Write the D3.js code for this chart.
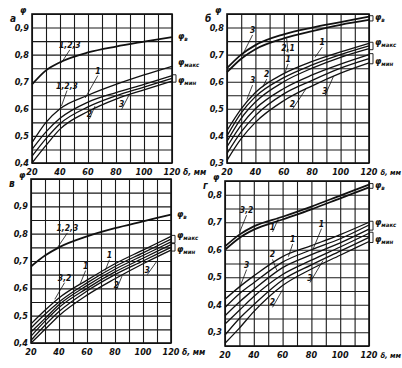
<!DOCTYPE html>
<html>
<head>
<meta charset="utf-8">
<script src="https://cdn.jsdelivr.net/npm/d3@7"></script>
<style>
body { margin: 0; background: #fff; }
text { font-family: "Liberation Sans Narrow", "DejaVu Sans Condensed", sans-serif; font-style: italic; font-weight: bold; fill: #111; }
</style>
</head>
<body>
<script>
// thickness delta, mm
var delta = [20, 30, 40, 60, 80, 100, 120];
var xTicks = [20, 40, 60, 80, 100, 120];

// panel a
var fiV_a = [0.69, 0.742, 0.772, 0.808, 0.83, 0.848, 0.865];
var fiMax_a = [0.475, 0.55, 0.6, 0.65, 0.69, 0.725, 0.757];
var fiMin_a = [
  [0.45, 0.515, 0.565, 0.625, 0.66, 0.69, 0.722],
  [0.425, 0.49, 0.545, 0.607, 0.648, 0.68, 0.712],
  [0.40, 0.465, 0.525, 0.59, 0.636, 0.67, 0.702]
];
// panel b
var fiV_b = [
  [0.65, 0.70, 0.735, 0.775, 0.80, 0.82, 0.84],
  [0.635, 0.685, 0.72, 0.76, 0.787, 0.81, 0.828]
];
var fiMax_b = [
  [0.42, 0.50, 0.56, 0.63, 0.675, 0.71, 0.742],
  [0.40, 0.485, 0.545, 0.615, 0.662, 0.70, 0.732],
  [0.38, 0.465, 0.525, 0.60, 0.65, 0.69, 0.722]
];
var fiMin_b = [
  [0.36, 0.44, 0.50, 0.575, 0.625, 0.665, 0.70],
  [0.335, 0.415, 0.475, 0.555, 0.605, 0.65, 0.685],
  [0.31, 0.39, 0.45, 0.53, 0.585, 0.632, 0.67]
];
// panel c
var fiV_c = [0.68, 0.72, 0.75, 0.79, 0.82, 0.845, 0.87];
var fiMax_c = [
  [0.47, 0.52, 0.565, 0.63, 0.69, 0.74, 0.79],
  [0.455, 0.505, 0.55, 0.62, 0.68, 0.73, 0.78],
  [0.44, 0.49, 0.54, 0.61, 0.67, 0.72, 0.77]
];
var fiMin_c = [
  [0.425, 0.48, 0.53, 0.60, 0.66, 0.71, 0.76],
  [0.41, 0.465, 0.515, 0.59, 0.65, 0.70, 0.75],
  [0.40, 0.45, 0.50, 0.575, 0.635, 0.69, 0.74]
];
// panel d
var fiV_d = [
  [0.612, 0.655, 0.685, 0.72, 0.757, 0.797, 0.837],
  [0.60, 0.643, 0.673, 0.71, 0.747, 0.787, 0.827]
];
var fiMax_d = [
  [0.42, 0.465, 0.505, 0.575, 0.615, 0.655, 0.70],
  [0.39, 0.44, 0.48, 0.555, 0.60, 0.64, 0.69],
  [0.36, 0.41, 0.455, 0.535, 0.582, 0.625, 0.675]
];
var fiMin_d = [
  [0.33, 0.38, 0.43, 0.51, 0.562, 0.61, 0.66],
  [0.29, 0.35, 0.40, 0.49, 0.545, 0.595, 0.645],
  [0.26, 0.315, 0.375, 0.47, 0.53, 0.58, 0.63]
];

// curve numbers: [text, label x, label y, pointer x, pointer y] in data units
var notes_a = [["1,2,3", 47, 0.825, 41, 0.77], ["1,2,3", 45, 0.675, 41, 0.61], ["1", 67, 0.73, 58, 0.64], ["2", 61, 0.57, 65, 0.61], ["3", 84, 0.605, 89, 0.648]];
var notes_b = [["3", 38, 0.78, 31, 0.70], ["2,1", 63, 0.715, 62, 0.76], ["1", 87, 0.735, 82, 0.69], ["1", 63, 0.673, 61, 0.636], ["2", 48, 0.617, 45, 0.58], ["3", 38, 0.595, 34, 0.535], ["2", 66, 0.505, 76, 0.577], ["3", 89, 0.556, 95, 0.62]];
var notes_c = [["1,2,3", 46, 0.81, 39, 0.75], ["3,2", 44, 0.628, 37, 0.56], ["1", 59, 0.672, 55, 0.615], ["1", 76, 0.712, 73, 0.665], ["2", 81, 0.602, 85, 0.645], ["3", 103, 0.657, 110, 0.70]];
var notes_d = [["3,2", 35, 0.733, 30, 0.662], ["1", 53, 0.672, 57, 0.712], ["1", 87, 0.684, 81, 0.60], ["1", 67, 0.628, 64, 0.575], ["2", 53, 0.572, 56, 0.525], ["3", 35, 0.535, 30, 0.46], ["3", 79, 0.488, 88, 0.56], ["2", 53, 0.398, 60, 0.455]];

var panels = [
  {letter: "а", x0: 32, x1: 172, y0: 14, y1: 163, yd: [0.4, 0.95], yt: [0.4, 0.5, 0.6, 0.7, 0.8, 0.9], fv: [fiV_a], fmax: [fiMax_a], fmin: fiMin_a, notes: notes_a},
  {letter: "б", x0: 227, x1: 369, y0: 14, y1: 163, yd: [0.3, 0.85], yt: [0.3, 0.4, 0.5, 0.6, 0.7, 0.8], fv: fiV_b, fmax: fiMax_b, fmin: fiMin_b, notes: notes_b},
  {letter: "в", x0: 31, x1: 171, y0: 179, y1: 343, yd: [0.4, 1.0], yt: [0.4, 0.5, 0.6, 0.7, 0.8, 0.9], fv: [fiV_c], fmax: fiMax_c, fmin: fiMin_c, notes: notes_c},
  {letter: "г", x0: 225, x1: 369, y0: 181, y1: 346, yd: [0.25, 0.85], yt: [0.3, 0.4, 0.5, 0.6, 0.7, 0.8], fv: fiV_d, fmax: fiMax_d, fmin: fiMin_d, notes: notes_d}
];

var fmt = function(d) { return d3.format(".1f")(d).replace(".", ","); };

var svg = d3.select("body").append("svg")
  .attr("width", 402)
  .attr("height", 368);

panels.forEach(function(p) {
  var x = d3.scaleLinear().domain([20, 120]).range([p.x0, p.x1]);
  var y = d3.scaleLinear().domain(p.yd).range([p.y1, p.y0]);
  var g = svg.append("g");

  // grid: every 10 mm and every 0.05
  g.append("g")
    .attr("transform", "translate(0," + p.y1 + ")")
    .call(d3.axisBottom(x).tickValues(d3.range(20, 121, 10)).tickSize(-(p.y1 - p.y0)).tickFormat(""))
    .call(function(a) { a.select(".domain").remove(); a.selectAll("line").attr("stroke", "#1a1a1a").attr("stroke-width", 1.1); });
  var hs = d3.range(Math.round(p.yd[0] * 20), Math.round(p.yd[1] * 20) + 1).map(function(k) { return k / 20; });
  g.append("g")
    .attr("transform", "translate(" + p.x0 + ",0)")
    .call(d3.axisLeft(y).tickValues(hs).tickSize(-(p.x1 - p.x0)).tickFormat(""))
    .call(function(a) { a.select(".domain").remove(); a.selectAll("line").attr("stroke", "#1a1a1a").attr("stroke-width", 1.1); });
  g.append("rect")
    .attr("x", p.x0).attr("y", p.y0)
    .attr("width", p.x1 - p.x0).attr("height", p.y1 - p.y0)
    .attr("fill", "none").attr("stroke", "#111").attr("stroke-width", 1.6);

  // tick labels
  g.append("g").selectAll("text").data(p.yt).enter().append("text")
    .attr("x", p.x0 - 3).attr("y", function(d) { return y(d) + 3; })
    .attr("text-anchor", "end").attr("font-size", 9)
    .text(fmt);
  g.append("g").selectAll("text").data(xTicks).enter().append("text")
    .attr("x", function(d) { return x(d); }).attr("y", p.y1 + 12)
    .attr("text-anchor", "middle").attr("font-size", 9)
    .text(function(d) { return d; });
  var right = p.x1 > 300;
  g.append("text").attr("x", right ? 401 : p.x1 + 11).attr("y", p.y1 + 12)
    .attr("text-anchor", right ? "end" : "start").attr("font-size", right ? 7.5 : 8.5).text("δ, мм");
  g.append("text").attr("x", p.x0 - 22).attr("y", p.y0 + 8).attr("font-size", 10).text(p.letter);
  g.append("text").attr("x", p.x0 - 12).attr("y", p.y0 - 1).attr("font-size", 9).text("φ");

  // curves
  var line = d3.line()
    .x(function(d, i) { return x(delta[i]); })
    .y(function(d) { return y(d); })
    .curve(d3.curveMonotoneX);
  g.selectAll(".fv").data(p.fv).enter().append("path")
    .attr("d", line).attr("fill", "none").attr("stroke", "#111").attr("stroke-width", 1.8);
  g.selectAll(".fo").data(p.fmax.concat(p.fmin)).enter().append("path")
    .attr("d", line).attr("fill", "none").attr("stroke", "#111").attr("stroke-width", 1.3);

  // curve numbers
  p.notes.forEach(function(n) {
    g.append("line")
      .attr("x1", x(n[1])).attr("y1", y(n[2]) + 2)
      .attr("x2", x(n[3])).attr("y2", y(n[4]))
      .attr("stroke", "#111").attr("stroke-width", 0.8);
    g.append("text").attr("x", x(n[1])).attr("y", y(n[2]))
      .attr("text-anchor", "middle").attr("font-size", 8.5).text(n[0]);
  });

  // right-hand labels with brackets
  function group(arr, sub, shift) {
    var last = arr.map(function(s) { return y(s[s.length - 1]); });
    var top = d3.min(last), bot = d3.max(last);
    if (arr.length > 1) {
      g.append("path")
        .attr("d", "M" + (p.x1 + 1) + "," + (top - 1) + "h3v" + (bot - top + 2) + "h-3")
        .attr("fill", "none").attr("stroke", "#111").attr("stroke-width", 0.9);
    }
    var t = g.append("text").attr("x", p.x1 + 6).attr("y", (top + bot) / 2 + 2 + shift).attr("font-size", 9);
    t.append("tspan").text("φ");
    t.append("tspan").attr("font-size", 6).attr("dy", 2).text(sub);
  }
  group(p.fv, "в", 0);
  group(p.fmax, "макс", -3);
  group(p.fmin, "мин", 3);
});
</script>
</body>
</html>
